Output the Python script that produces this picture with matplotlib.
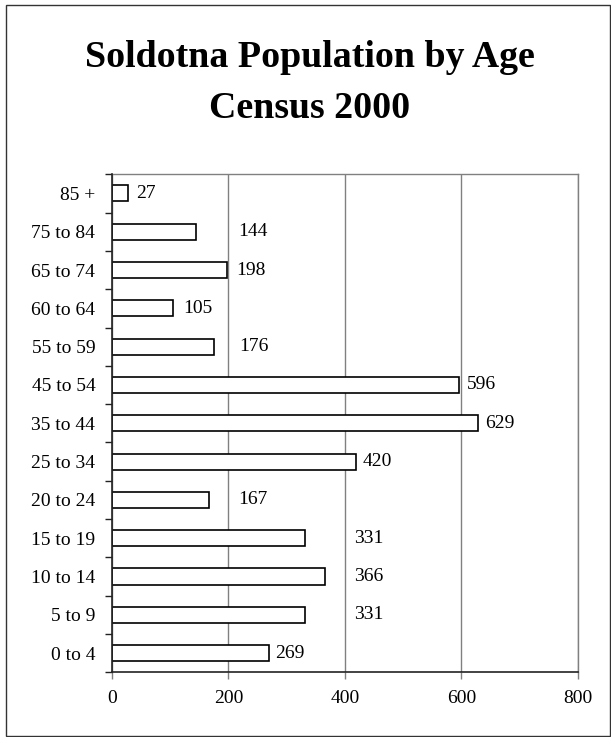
import matplotlib
matplotlib.use("Agg")
import matplotlib.pyplot as plt
from matplotlib.patches import Rectangle
import numpy as np

# ---- data ----
categories = ["0 to 4", "5 to 9", "10 to 14", "15 to 19", "20 to 24", "25 to 34",
              "35 to 44", "45 to 54", "55 to 59", "60 to 64", "65 to 74",
              "75 to 84", "85 +"]
population = [269, 331, 366, 331, 167, 420, 629, 596, 176, 105, 198, 144, 27]
x_ticks = [0, 200, 400, 600, 800]
title_lines = ["Soldotna Population by Age", "Census 2000"]
# label anchor positions (data units) as placed in the original chart
label_x = [281, 416, 416, 416, 217, 431, 641, 610, 218, 122, 214, 217, 41]

plt.rcParams['font.family'] = ['Liberation Serif', 'DejaVu Serif']

W, H = 611, 737
fig = plt.figure(figsize=(W / 100, H / 100), dpi=100)
fig.patch.set_facecolor('white')

# outer border
fig.add_artist(Rectangle((5.5 / W, 1 - 735.7 / H), (609.5 - 5.5) / W, (735.7 - 5) / H,
                         transform=fig.transFigure, fill=False,
                         edgecolor='#333333', linewidth=1.0))

# title
fig.text(309.5 / W, 1 - 67 / H, title_lines[0], ha='center', va='baseline',
         fontsize=27.3, fontweight='bold')
fig.text(309.5 / W, 1 - 118 / H, title_lines[1], ha='center', va='baseline',
         fontsize=27.3, fontweight='bold')

left, right, top, bottom = 112, 577.7, 174.3, 672.3
ax = fig.add_axes([left / W, 1 - bottom / H, (right - left) / W, (bottom - top) / H])

pos = np.arange(len(categories))
ax.barh(pos, population, height=0.42, color='white', edgecolor='black',
        linewidth=1.2, zorder=3)

ax.set_xlim(0, 800)
ax.set_ylim(-0.5, len(categories) - 0.5)

# gridlines
ax.set_xticks(x_ticks)
ax.set_xticklabels([str(t) for t in x_ticks], fontsize=14)
ax.xaxis.grid(True, color='#808080', linewidth=1.0, zorder=0)
ax.set_axisbelow(True)
ax.tick_params(axis='x', direction='out', length=5, width=1.0, color='#808080',
               pad=8, labelcolor='black')

# y: labels at centers, tick marks at boundaries
ax.set_yticks(pos)
ax.set_yticklabels(categories, fontsize=14)
ax.tick_params(axis='y', which='major', length=0, pad=12, labelcolor='black')
ax.set_yticks(np.arange(-0.5, len(categories), 1.0), minor=True)
ax.tick_params(axis='y', which='minor', direction='out', length=5, width=1.0,
               color='#222222')

for s in ['top', 'right']:
    ax.spines[s].set_color('#808080')
    ax.spines[s].set_linewidth(1.0)
for s in ['left', 'bottom']:
    ax.spines[s].set_color('#222222')
    ax.spines[s].set_linewidth(1.2)
    ax.spines[s].set_zorder(4)

# data labels
for p, v, lx in zip(pos, population, label_x):
    ax.text(lx, p, str(v), ha='left', va='center', fontsize=14, color='black',
            zorder=5)

fig.savefig('out.png', dpi=100, facecolor='white')
